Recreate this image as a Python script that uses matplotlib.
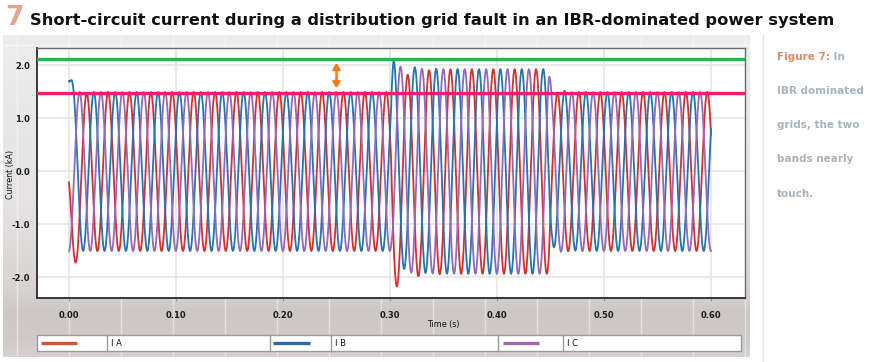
import matplotlib
matplotlib.use("Agg")
import matplotlib.pyplot as plt
import numpy as np

# values
time_start, time_end = 0.0, 0.60
freq_hz = 50.0                 # 30 cycles over 0.6 s
ib_crest_time = 0.0032         # first IB crest (s)
phase_names = ["I A", "I B", "I C"]
phase_shift_deg = [120.0, 0.0, -120.0]

# amplitude envelope (kA): pre-fault, fault 0.30-0.45 s, cleared
env_time = [0.000, 0.3010, 0.3035, 0.4485, 0.4515, 0.600]
env_amp = [1.50, 1.50, 1.93, 1.93, 1.50, 1.50]

# dc offsets (kA) at each event and their decay (s)
event_time = [0.000, 0.301, 0.449]
ia_offset = [-0.90, -0.38, -0.04]
ib_offset = [0.90, 0.25, 0.12]
ic_offset = [0.00, 0.10, -0.06]
ia_tau = [0.0045, 0.012, 0.008]
ib_tau = [0.0020, 0.012, 0.008]
ic_tau = [0.0040, 0.012, 0.008]
offset_rise = [0.0, 0.0008, 0.0010]

band_upper = 2.12   # green line
band_lower = 1.49   # pink line
arrow_time = 0.25
arrow_span = [1.57, 2.05]

x_ticks = [0.0, 0.1, 0.2, 0.3, 0.4, 0.5, 0.6]
y_ticks = [-2.0, -1.0, 0.0, 1.0, 2.0]

line_colors = ["#d3302f", "#2374b1", "#9668b8"]
legend_colors = ["#d4532d", "#2b6aa8", "#a068b0"]

title_text = "Short-circuit current during a distribution grid fault in an IBR-dominated power system"
side_lines = ["IBR dominated", "grids, the two", "bands nearly", "touch."]

W, H = 880, 362
fig = plt.figure(figsize=(W / 100, H / 100), dpi=100)
fig.patch.set_facecolor("white")

# background panel (pixel coordinates)
bg = fig.add_axes([0, 0, 1, 1], zorder=0)
bg.set_xlim(0, W)
bg.set_ylim(H, 0)
bg.axis("off")

stop_y = [35, 200, 290, 310, 340, 357]
stop_c = np.array([[237, 237, 237], [229, 227, 227], [216, 211, 211],
                   [206, 199, 199], [209, 202, 202], [215, 209, 209]]) / 255.0
ys = np.arange(35, 357)
grad = np.stack([np.interp(ys, stop_y, stop_c[:, k]) for k in range(3)], axis=1)
bg.imshow(grad[:, None, :], extent=[3, 750, 357, 35], origin="upper",
          aspect="auto", interpolation="bilinear", zorder=0)
for xs in np.arange(17, 750, 52):
    bg.plot([xs, xs], [35, 357], color="white", lw=1.0, alpha=0.45, zorder=1)
bg.plot([3, 750], [45, 45], color="white", lw=1.0, alpha=0.6, zorder=1)

# separator on the right
bg.plot([763, 763], [35, 362], color="#e6e6e6", lw=1.0, zorder=1)

# legend table
bg.add_patch(plt.Rectangle((37, 335), 704, 16, facecolor="white",
                           edgecolor="#9a9a9a", lw=1.0, zorder=2))
for xd in [107, 270, 331, 498, 563]:
    bg.plot([xd, xd], [335, 351], color="#9a9a9a", lw=1.0, zorder=3)
sample_x = [(41, 77), (273, 310), (503, 539)]
label_x = [111, 335, 567]
for k in range(3):
    bg.plot(sample_x[k], [343, 343], color=legend_colors[k], lw=2.4,
            solid_capstyle="butt", zorder=3)
    bg.text(label_x[k], 343.5, phase_names[k], fontsize=6, va="center",
            ha="left", color="#111111", zorder=3)

# main chart
ax = fig.add_axes([37 / W, 1 - 298 / H, (745 - 37) / W, (298 - 48) / H], zorder=1)
ax.set_facecolor("white")

t = np.linspace(time_start, time_end, 6001)
amp = np.interp(t, env_time, env_amp)
theta = 2 * np.pi * freq_hz * (t - ib_crest_time)


def phase_current(shift, offsets, taus):
    cur = amp * np.cos(theta + np.radians(shift))
    for t0, d, tau, rise in zip(event_time, offsets, taus, offset_rise):
        m = t >= t0
        dt = t[m] - t0
        onset = 1.0 if rise == 0 else 1 - np.exp(-dt / rise)
        cur[m] += d * onset * np.exp(-dt / tau)
    return cur


currents = [phase_current(phase_shift_deg[0], ia_offset, ia_tau),
            phase_current(phase_shift_deg[1], ib_offset, ib_tau),
            phase_current(phase_shift_deg[2], ic_offset, ic_tau)]

for k in range(3):
    ax.plot(t, currents[k], color=line_colors[k], lw=1.3, zorder=3)

ax.axhline(band_upper, color="#2cb24b", lw=2.4, zorder=4)
ax.axhline(band_lower, color="#f0206f", lw=2.4, zorder=4)
ax.annotate("", xy=(arrow_time, arrow_span[1]), xytext=(arrow_time, arrow_span[0]),
            arrowprops=dict(arrowstyle="<|-|>,head_width=0.22,head_length=0.35",
                            color="#f27c22", lw=1.8, shrinkA=0, shrinkB=0), zorder=5)

ax.set_xlim(-0.0299, 0.6318)
ax.set_ylim(-2.387, 2.33)
ax.set_xticks(x_ticks)
ax.set_xticklabels(["%.2f" % v for v in x_ticks])
ax.set_yticks(y_ticks)
ax.set_yticklabels(["%.1f" % v for v in y_ticks])
ax.grid(True, color="#e3e3e3", lw=1.1, zorder=0)
ax.set_axisbelow(True)
ax.tick_params(axis="x", length=2.5, width=0.8, color="#999999", pad=7,
               labelsize=6, labelcolor="#1a1a1a")
ax.tick_params(axis="y", length=0, pad=5, labelsize=6, labelcolor="#1a1a1a")
for lab in ax.get_xticklabels() + ax.get_yticklabels():
    lab.set_fontweight("bold")
for side in ["left", "bottom"]:
    ax.spines[side].set_color("#2a2a2a")
    ax.spines[side].set_linewidth(1.3)
for side in ["top", "right"]:
    ax.spines[side].set_color("#6a6a6a")
    ax.spines[side].set_linewidth(1.0)

fig.text(10 / W, 1 - 174 / H, "Current (kA)", rotation=90, fontsize=5.8,
         ha="center", va="center", color="#111111")
fig.text(443 / W, 1 - 325 / H, "Time (s)", fontsize=5.8, ha="center",
         va="center", color="#111111")

# title
fig.text(5 / W, 1 - 25 / H, "7", fontsize=19, fontweight="bold",
         color="#e8a28c", ha="left", va="baseline")
title = fig.text(30 / W, 1 - 25 / H, title_text, fontsize=12, fontweight="bold",
                 color="#111111", ha="left", va="baseline")
renderer = fig.canvas.get_renderer()
tw = title.get_window_extent(renderer).width
title.set_fontsize(12 * 800 / tw)

# side note
fig_label = fig.text(777 / W, 1 - 59.5 / H, "Figure 7:", fontsize=7.5,
                     fontweight="bold", color="#e0896a", ha="left", va="baseline")
lw_px = fig_label.get_window_extent(renderer).width
fig.text((777 + lw_px) / W, 1 - 59.5 / H, " In", fontsize=7.5, fontweight="bold",
         color="#a8b3bb", ha="left", va="baseline")
for i, s in enumerate(side_lines):
    fig.text(777 / W, 1 - (59.5 + 34.3 * (i + 1)) / H, s, fontsize=7.5,
             fontweight="bold", color="#a8b3bb", ha="left", va="baseline")

fig.savefig("out.png", dpi=100, facecolor="white")
